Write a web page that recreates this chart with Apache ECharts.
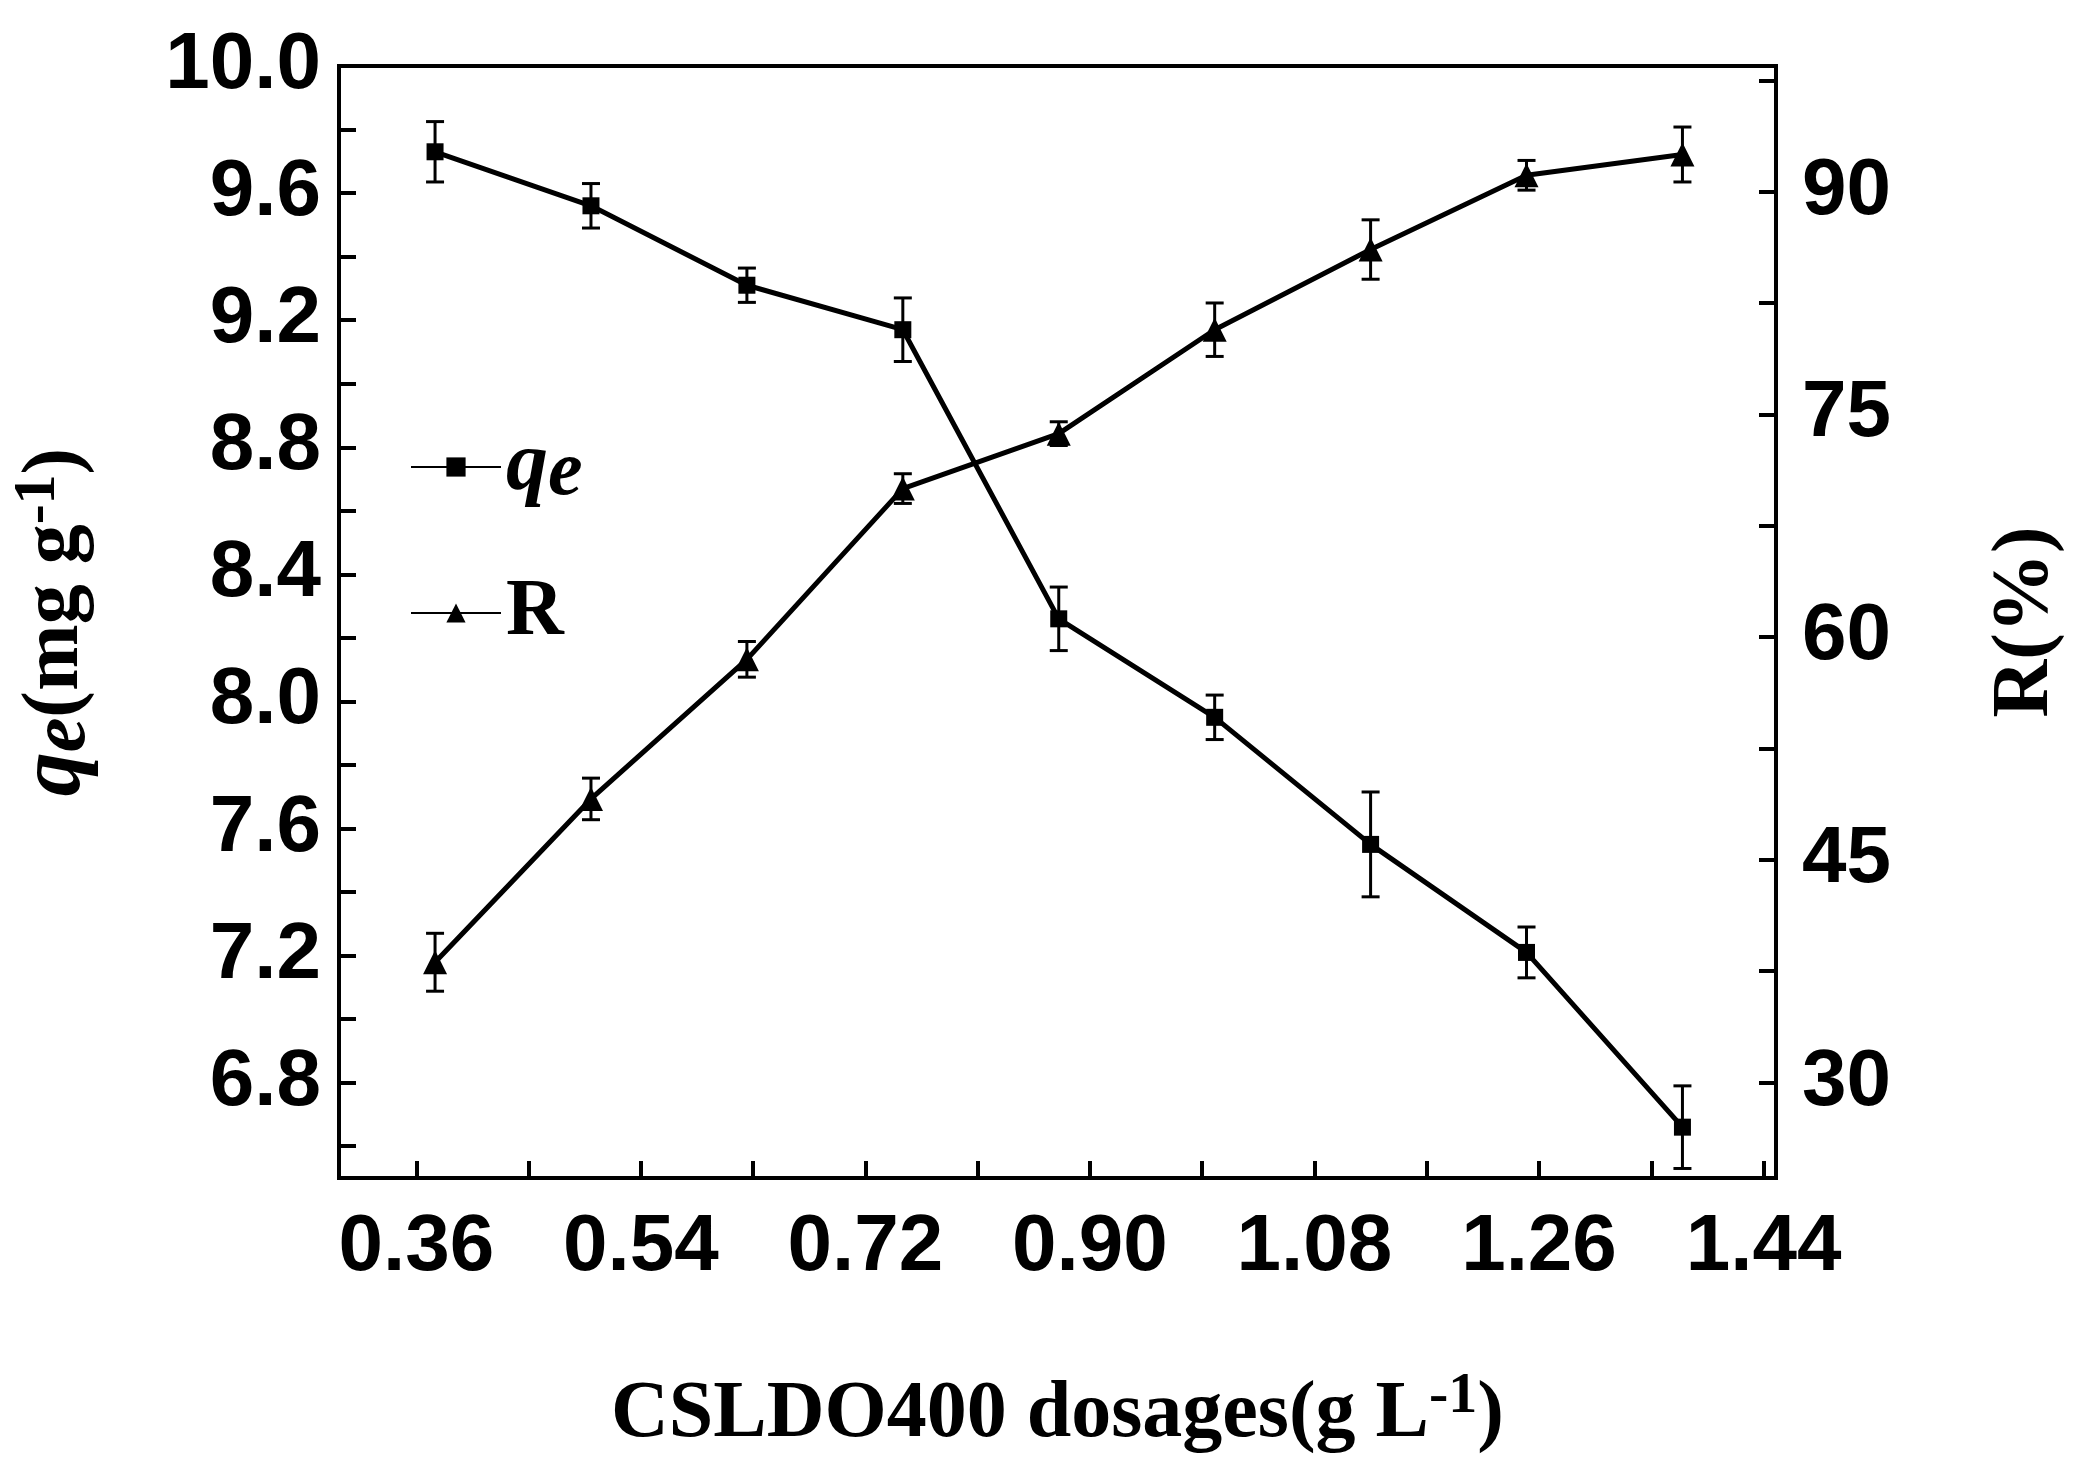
<!DOCTYPE html>
<html>
<head>
<meta charset="utf-8">
<script src="https://cdn.jsdelivr.net/npm/echarts@6/dist/echarts.min.js"></script>
<style>html,body{margin:0;background:#fff}#c{width:2074px;height:1460px}</style>
</head>
<body>
<div id="c"></div>
<script>
var dosages = [0.375, 0.5, 0.625, 0.75, 0.875, 1.0, 1.125, 1.25, 1.375];
var qeValues = [9.73, 9.56, 9.31, 9.17, 8.26, 7.95, 7.55, 7.21, 6.66];
var qeErrors = [0.095, 0.07, 0.054, 0.1, 0.1, 0.07, 0.165, 0.08, 0.13];
var rValues = [38.1, 49.1, 58.5, 70.0, 73.7, 80.7, 86.1, 91.1, 92.5];
var rErrors = [1.95, 1.4, 1.2, 1.0, 0.8, 1.8, 2.0, 1.0, 1.85];
var xTickLabels = [0.36, 0.54, 0.72, 0.90, 1.08, 1.26, 1.44];
var xTicks = [0.36, 0.45, 0.54, 0.63, 0.72, 0.81, 0.90, 0.99, 1.08, 1.17, 1.26, 1.35, 1.44];
var qeTickLabels = [6.8, 7.2, 7.6, 8.0, 8.4, 8.8, 9.2, 9.6, 10.0];
var qeTicks = [6.6, 6.8, 7.0, 7.2, 7.4, 7.6, 7.8, 8.0, 8.2, 8.4, 8.6, 8.8, 9.0, 9.2, 9.4, 9.6, 9.8, 10.0];
var rTickLabels = [30, 45, 60, 75, 90];
var rTicks = [30, 37.5, 45, 52.5, 60, 67.5, 75, 82.5, 90, 97.5];

var chart = echarts.init(document.getElementById('c'));
var tickFont = { fontFamily: 'Liberation Sans', fontWeight: 'bold', fontSize: 80, color: '#000' };

function errSeries(vals, errs, axisIdx) {
  return {
    type: 'custom', yAxisIndex: axisIdx, z: 3,
    data: dosages.map(function (x, i) { return [x, vals[i] - errs[i], vals[i] + errs[i]]; }),
    renderItem: function (params, api) {
      var lo = api.coord([api.value(0), api.value(1)]);
      var hi = api.coord([api.value(0), api.value(2)]);
      var w = 9;
      var st = { stroke: '#000', lineWidth: 3 };
      return { type: 'group', children: [
        { type: 'line', shape: { x1: lo[0], y1: lo[1], x2: hi[0], y2: hi[1] }, style: st },
        { type: 'line', shape: { x1: lo[0] - w, y1: lo[1], x2: lo[0] + w, y2: lo[1] }, style: st },
        { type: 'line', shape: { x1: hi[0] - w, y1: hi[1], x2: hi[0] + w, y2: hi[1] }, style: st }
      ]};
    }
  };
}

chart.setOption({
  animation: false,
  grid: { left: 324, right: 269, top: 66, bottom: 270, show: true, borderColor: '#000', borderWidth: 4 },
  legend: {
    data: ['qe', 'R'], left: 405, top: 420, orient: 'vertical', itemGap: 60,
    itemWidth: 90, itemHeight: 24,
    formatter: function (n) { return n === 'qe' ? '{i|q}{s|e}' : '{r|R}'; },
    textStyle: {
      color: '#000',
      rich: {
        i: { fontFamily: 'Liberation Serif', fontStyle: 'italic', fontWeight: 'bold', fontSize: 84 },
        s: { fontFamily: 'Liberation Serif', fontStyle: 'italic', fontWeight: 'bold', fontSize: 78, padding: [14, 0, 0, 0] },
        r: { fontFamily: 'Liberation Serif', fontWeight: 'bold', fontSize: 80 }
      }
    }
  },
  xAxis: {
    type: 'value', min: 0.298, max: 1.45,
    name: '{a|CSLDO400 dosages(g L}{sup|-1}{a|)}', nameLocation: 'middle', nameGap: 190,
    nameTextStyle: { rich: {
      a: { fontFamily: 'Liberation Serif', fontWeight: 'bold', fontSize: 80, color: '#000' },
      sup: { fontFamily: 'Liberation Serif', fontWeight: 'bold', fontSize: 58, color: '#000', padding: [0, 0, 36, 0] }
    } },
    axisLine: { lineStyle: { color: '#000', width: 4 } },
    axisTick: { inside: true, length: 17, lineStyle: { width: 4 }, customValues: xTicks },
    axisLabel: Object.assign({ margin: 30, customValues: xTickLabels, formatter: function (v) { return v.toFixed(2); } }, tickFont),
    splitLine: { show: false }
  },
  yAxis: [{
    type: 'value', min: 6.5, max: 10.0, position: 'left',
    name: '{i|q}{s|e}{a|(mg g}{sup|-1}{a|)}', nameLocation: 'middle', nameGap: 235, nameRotate: 90,
    nameTextStyle: { rich: {
      i: { fontFamily: 'Liberation Serif', fontStyle: 'italic', fontWeight: 'bold', fontSize: 88, color: '#000' },
      s: { fontFamily: 'Liberation Serif', fontStyle: 'italic', fontWeight: 'bold', fontSize: 78, color: '#000', padding: [16, 0, 0, 0] },
      a: { fontFamily: 'Liberation Serif', fontWeight: 'bold', fontSize: 80, color: '#000' },
      sup: { fontFamily: 'Liberation Serif', fontWeight: 'bold', fontSize: 60, color: '#000', padding: [0, 0, 36, 0] }
    } },
    axisLine: { show: true, lineStyle: { color: '#000', width: 4 } },
    axisTick: { inside: true, length: 17, lineStyle: { width: 4 }, customValues: qeTicks },
    axisLabel: Object.assign({ margin: 18, customValues: qeTickLabels, formatter: function (v) { return v.toFixed(1); } }, tickFont),
    splitLine: { show: false }
  }, {
    type: 'value', min: 23.57, max: 98.46, position: 'right',
    name: 'R(%)', nameLocation: 'middle', nameGap: 210, nameRotate: 90,
    nameTextStyle: { fontFamily: 'Liberation Serif', fontWeight: 'bold', fontSize: 80, color: '#000' },
    axisLine: { show: true, lineStyle: { color: '#000', width: 4 } },
    axisTick: { inside: true, length: 17, lineStyle: { width: 4 }, customValues: rTicks },
    axisLabel: Object.assign({ margin: 26, customValues: rTickLabels }, tickFont),
    splitLine: { show: false }
  }],
  series: [
    errSeries(qeValues, qeErrors, 0),
    errSeries(rValues, rErrors, 1),
    {
      name: 'qe', type: 'line', yAxisIndex: 0, z: 4,
      data: dosages.map(function (x, i) { return [x, qeValues[i]]; }),
      symbol: 'rect', symbolSize: 17,
      lineStyle: { color: '#000', width: 5 }, itemStyle: { color: '#000' }
    },
    {
      name: 'R', type: 'line', yAxisIndex: 1, z: 4,
      data: dosages.map(function (x, i) { return [x, rValues[i]]; }),
      symbol: 'triangle', symbolSize: 24,
      lineStyle: { color: '#000', width: 5 }, itemStyle: { color: '#000' }
    }
  ]
});
</script>
</body>
</html>
